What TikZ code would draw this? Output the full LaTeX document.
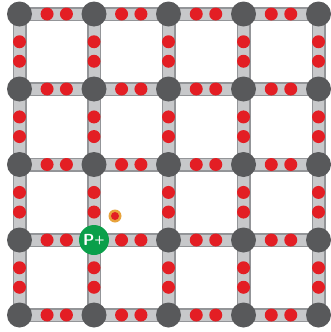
\documentclass[tikz,border=0pt]{standalone}
\usepackage{tikz}
\usetikzlibrary{calc}
\definecolor{jointgray}{HTML}{58595B}
\definecolor{barfill}{HTML}{C7C8CA}
\definecolor{barline}{HTML}{939598}
\definecolor{dotred}{HTML}{E31E24}
\definecolor{pgreen}{HTML}{0A9F4A}
\definecolor{ringorange}{HTML}{E8A33C}
\begin{document}
\begin{tikzpicture}[x=1pt, y=-1pt,
        barout/.style={line width=14pt, barline},
        barin/.style={line width=11pt, barfill},
        joint/.style={circle, fill=jointgray, inner sep=0pt, minimum size=25pt},
        site/.style={dotred},
        proton/.style={circle, fill=pgreen, inner sep=0pt, minimum size=30pt,
          text=white, font=\sffamily\bfseries\fontsize{16}{16}\selectfont}
      ]
        \useasboundingbox (0,0) rectangle (331,332);

        % Gitterpunkte
        \foreach \i/\xx in {0/19.5,1/94,2/168.5,3/243.5,4/318.5} {
          \foreach \j/\yy in {0/14,1/89,2/164.5,3/240,4/315} {
            \coordinate (n\i\j) at (\xx,\yy);
          }
        }

        % Stäbe
        \foreach \st in {barout,barin} {
          \foreach \i in {0,...,4} {\draw[\st] (n\i0) -- (n\i4);}
          \foreach \j in {0,...,4} {\draw[\st] (n0\j) -- (n4\j);}
        }

        % rote Punkte: waagrecht
        \foreach \i/\k in {0/1,1/2,2/3,3/4} {
          \foreach \j in {0,...,4} {
            \fill[site] ($(n\i\j)!0.37!(n\k\j)$) circle (6.5);
            \fill[site] ($(n\i\j)!0.63!(n\k\j)$) circle (6.5);
          }
        }
        % rote Punkte: senkrecht
        \foreach \j/\k in {0/1,1/2,2/3,3/4} {
          \foreach \i in {0,...,4} {
            \fill[site] ($(n\i\j)!0.37!(n\i\k)$) circle (6.5);
            \fill[site] ($(n\i\j)!0.63!(n\i\k)$) circle (6.5);
          }
        }

        % Knoten
        \foreach \i in {0,...,4} {
          \foreach \j in {0,...,4} {
            \node[joint] (j\i\j) at (n\i\j) {};
          }
        }

        % Proton + Fremdatom
        \node[proton] (p) at (n13) {P\raisebox{2pt}{\fontsize{12}{12}\selectfont+}};
        \coordinate (d) at (115,216);
        \fill[ringorange] (d) circle (6.5);
        \fill[dotred] (d) circle (4);
      \end{tikzpicture}
\end{document}
